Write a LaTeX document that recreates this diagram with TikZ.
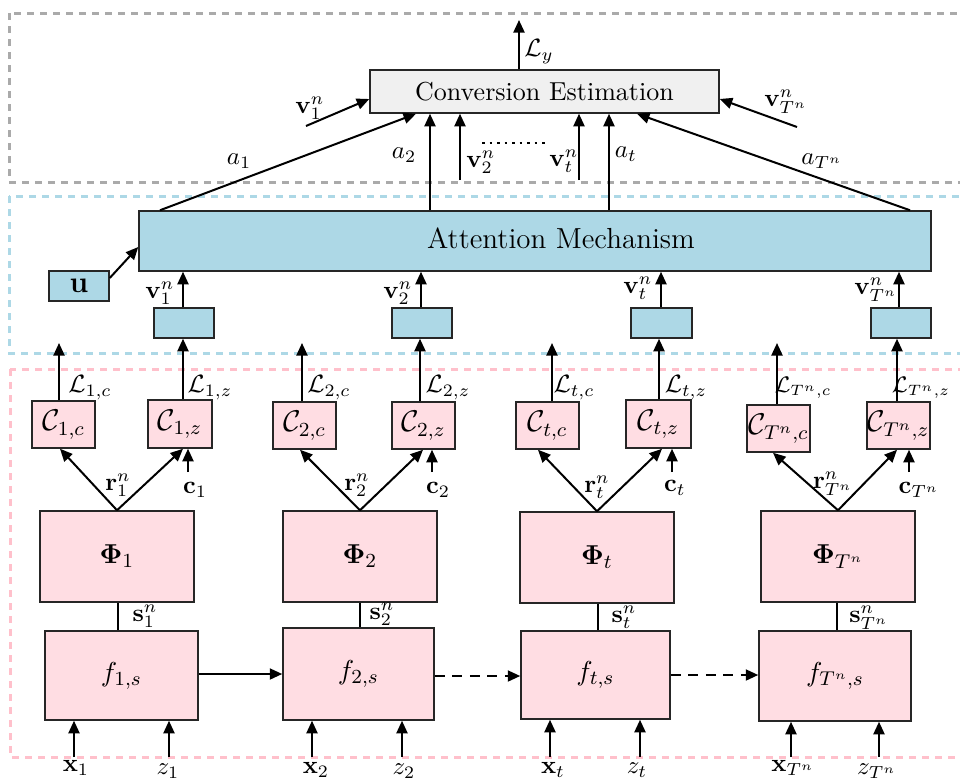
\documentclass[tikz,border=0pt]{standalone}
\usetikzlibrary{arrows.meta}
\definecolor{pinkfill}{RGB}{255,221,227}
\definecolor{lblue}{RGB}{173,216,230}
\definecolor{convfill}{RGB}{240,240,240}
\definecolor{dgray}{RGB}{170,170,170}
\definecolor{dpink}{RGB}{255,192,203}
\newcommand{\rbox}[7]{\node[#1, minimum width={(#4-#2)*0.4pt}, minimum height={(#5-#3)*0.4pt}] (#6) at ({(#2+#4)/2},{(#3+#5)/2}) {#7};}
\begin{document}
\begin{tikzpicture}[x=0.4pt,y=-0.4pt,
  box/.style={draw=black!85, line width=0.6pt, inner sep=0pt},
  pbox/.style={box, fill=pinkfill, font=\fontsize{11}{13}\selectfont},
  cbox/.style={box, fill=pinkfill, font=\fontsize{11.5}{14}\selectfont},
  bbox/.style={box, fill=lblue},
  arr/.style={-{Triangle[length=5pt,width=4.4pt]}, line width=0.8pt},
  plain/.style={line width=0.8pt},
  region/.style={dash pattern=on 2.8pt off 2.4pt, line width=1.2pt},
  lbl/.style={inner sep=0pt},
  slbl/.style={inner sep=0pt, font=\fontsize{9}{11}\selectfont}
]
\useasboundingbox (0,0) rectangle (960,782);
\clip (0,0) rectangle (960,782);

% dashed regions
\draw[region, dgray] (9,13) rectangle (990,182);
\draw[region, lblue] (9,196) rectangle (990,353);
\draw[region, dpink] (10,369) rectangle (990,757);

% conversion estimation
\rbox{box, fill=convfill, font=\fontsize{10.4}{12}\selectfont}{370}{70}{719}{113}{conv}{Conversion Estimation}
\coordinate (ly) at (519,20);
\draw[arr] (conv.north -| ly) -- (ly);
\node[lbl] (lyl) at (539,52) {$\mathcal{L}_y$};

% attention
\rbox{bbox}{139}{211}{931}{271}{att}{}
\node[lbl, font=\fontsize{11.6}{14}\selectfont] (attl) at (561,238) {Attention Mechanism};

% u
\rbox{bbox, font=\fontsize{13}{15}\selectfont}{49}{271}{109}{301}{u}{$\mathbf{u}$}
\draw[arr] (u.east |- 0,278) -- (att.west |- 0,247);

% arrows into conversion
\coordinate (v1s) at (306,126);
\draw[arr] (v1s) -- (conv.west |- 0,99);
\node[lbl] (v1top) at (310,108) {$\mathbf{v}_1^n$};
\coordinate (vTs) at (797,127);
\draw[arr] (vTs) -- (conv.east |- 0,99);
\node[lbl] (vTtop) at (786,102) {$\mathbf{v}_{T^n}^n$};

\draw[arr] (att.north -| 160,0) -- (conv.south -| 416,0);
\node[lbl] (a1l) at (239,161) {$a_1$};
\draw[arr] (att.north -| 430,0) -- (conv.south -| 430,0);
\node[lbl] (a2l) at (404,155) {$a_2$};
\coordinate (v2s) at (460,180);
\draw[arr] (v2s) -- (conv.south -| v2s);
\node[lbl] (v2top) at (481,162) {$\mathbf{v}_2^n$};
\coordinate (d1) at (482,143);
\coordinate (d2) at (545,143);
\draw[dotted, line width=1pt] (d1) -- (d2);
\coordinate (vts) at (579,180);
\draw[arr] (vts) -- (conv.south -| vts);
\node[lbl] (vttop) at (564,161) {$\mathbf{v}_t^n$};
\draw[arr] (att.north -| 609,0) -- (conv.south -| 609,0);
\node[lbl] (atl) at (626,154) {$a_t$};
\draw[arr] (att.north -| 910,0) -- (conv.south -| 637,0);
\node[lbl] (aTl) at (822,161) {$a_{T^n}$};

% v boxes
\rbox{bbox}{154}{308}{214}{338}{vb1}{}
\rbox{bbox}{392}{308}{452}{338}{vb2}{}
\rbox{bbox}{631}{308}{692}{338}{vbt}{}
\rbox{bbox}{871}{308}{931}{338}{vbT}{}
\draw[arr] (vb1.north -| 183,0) -- (att.south -| 183,0);
\draw[arr] (vb2.north -| 421,0) -- (att.south -| 421,0);
\draw[arr] (vbt.north -| 661,0) -- (att.south -| 661,0);
\draw[arr] (vbT.north -| 899,0) -- (att.south -| 899,0);
\node[lbl] (v1l) at (160,293) {$\mathbf{v}_1^n$};
\node[lbl] (v2l) at (398,293) {$\mathbf{v}_2^n$};
\node[lbl] (vtl) at (638,288) {$\mathbf{v}_t^n$};
\node[lbl] (vTl) at (876,290) {$\mathbf{v}_{T^n}^n$};

% C boxes
\rbox{cbox}{32}{401}{95}{448}{c1c}{$\mathcal{C}_{1,c}$}
\rbox{cbox}{148}{400}{212}{448}{c1z}{$\mathcal{C}_{1,z}$}
\rbox{cbox}{273}{402}{336}{449}{c2c}{$\mathcal{C}_{2,c}$}
\rbox{cbox}{392}{402}{455}{449}{c2z}{$\mathcal{C}_{2,z}$}
\rbox{cbox}{516}{402}{579}{449}{ctc}{$\mathcal{C}_{t,c}$}
\rbox{cbox}{626}{400}{691}{448}{ctz}{$\mathcal{C}_{t,z}$}
\rbox{cbox}{747}{405}{810}{452}{cTc}{$\mathcal{C}_{T^n,c}$}
\rbox{cbox}{867}{402}{930}{449}{cTz}{$\mathcal{C}_{T^n,z}$}

% loss arrows
\coordinate (l1c) at (59,343);
\coordinate (l2c) at (302,343);
\coordinate (ltc) at (552,343);
\coordinate (lTc) at (777,343);
\draw[arr] (c1c.north -| l1c) -- (l1c);
\draw[arr] (c2c.north -| l2c) -- (l2c);
\draw[arr] (ctc.north -| ltc) -- (ltc);
\draw[arr] (cTc.north -| lTc) -- (lTc);
\draw[arr] (c1z.north -| 183,0) -- (vb1.south -| 183,0);
\draw[arr] (c2z.north -| 420,0) -- (vb2.south -| 420,0);
\draw[arr] (ctz.north -| 659,0) -- (vbt.south -| 659,0);
\draw[arr] (cTz.north -| 897,0) -- (vbT.south -| 897,0);
\node[lbl] (L1c) at (90,388) {$\mathcal{L}_{1,c}$};
\node[lbl] (L1z) at (210,388) {$\mathcal{L}_{1,z}$};
\node[lbl] (L2c) at (329,388) {$\mathcal{L}_{2,c}$};
\node[lbl] (L2z) at (448,388) {$\mathcal{L}_{2,z}$};
\node[lbl] (Ltc) at (574,388) {$\mathcal{L}_{t,c}$};
\node[lbl] (Ltz) at (686,388) {$\mathcal{L}_{t,z}$};
\node[slbl] (LTc) at (803,388) {$\mathcal{L}_{T^n,c}$};
\node[slbl] (LTz) at (921,388) {$\mathcal{L}_{T^n,z}$};

% Phi boxes
\rbox{pbox}{40}{511}{194}{602}{phi1}{$\mathbf{\Phi}_1$}
\rbox{pbox}{283}{511}{437}{602}{phi2}{$\mathbf{\Phi}_2$}
\rbox{pbox}{520}{512}{674}{603}{phit}{$\mathbf{\Phi}_t$}
\rbox{pbox}{761}{511}{915}{602}{phiT}{$\mathbf{\Phi}_{T^n}$}

\draw[arr] (phi1.north) -- (c1c.south -| 60,0);
\draw[arr] (phi1.north) -- (c1z.south -| 183,0);
\draw[arr] (phi2.north) -- (c2c.south -| 300,0);
\draw[arr] (phi2.north) -- (c2z.south -| 423,0);
\draw[arr] (phit.north) -- (ctc.south -| 538,0);
\draw[arr] (phit.north) -- (ctz.south -| 662,0);
\draw[arr] (phiT.north) -- (cTc.south -| 773,0);
\draw[arr] (phiT.north) -- (cTz.south -| 897,0);
\node[lbl] (r1) at (118,485) {$\mathbf{r}_1^n$};
\node[lbl] (r2) at (357,485) {$\mathbf{r}_2^n$};
\node[lbl] (rt) at (597,487) {$\mathbf{r}_t^n$};
\node[lbl] (rT) at (833,484) {$\mathbf{r}_{T^n}^n$};

% c inputs
\coordinate (c1s) at (188,472);
\coordinate (c2s) at (432,472);
\coordinate (cts) at (672,472);
\coordinate (cTs) at (909,472);
\draw[arr] (c1s) -- (c1z.south -| c1s);
\draw[arr] (c2s) -- (c2z.south -| c2s);
\draw[arr] (cts) -- (ctz.south -| cts);
\draw[arr] (cTs) -- (cTz.south -| cTs);
\node[lbl] (c1l) at (195,490) {$\mathbf{c}_1$};
\node[lbl] (c2l) at (438,490) {$\mathbf{c}_2$};
\node[lbl] (ctl) at (675,488) {$\mathbf{c}_t$};
\node[lbl] (cTl) at (919,490) {$\mathbf{c}_{T^n}$};

% f boxes
\rbox{pbox}{45}{631}{198}{720}{f1}{$f_{1,s}$}
\rbox{pbox}{283}{628}{434}{720}{f2}{$f_{2,s}$}
\rbox{pbox}{521}{631}{670}{719}{ft}{$f_{t,s}$}
\rbox{pbox}{759}{631}{911}{721}{fT}{$f_{T^n,s}$}

\draw[plain] (phi1.south -| 118,0) -- (f1.north -| 118,0);
\draw[plain] (phi2.south -| 360,0) -- (f2.north -| 360,0);
\draw[plain] (phit.south -| 598,0) -- (ft.north -| 598,0);
\draw[plain] (phiT.south -| 837,0) -- (fT.north -| 837,0);
\node[lbl] (s1) at (145,616) {$\mathbf{s}_1^n$};
\node[lbl] (s2) at (382,614) {$\mathbf{s}_2^n$};
\node[lbl] (st) at (624,617) {$\mathbf{s}_t^n$};
\node[lbl] (sT) at (869,618) {$\mathbf{s}_{T^n}^n$};

\draw[arr] (f1.east |- 0,674) -- (f2.west |- 0,674);
\draw[arr, dash pattern=on 4pt off 3pt] (f2.east |- 0,676) -- (ft.west |- 0,676);
\draw[arr, dash pattern=on 4pt off 3pt] (ft.east |- 0,675) -- (fT.west |- 0,675);

% inputs
\foreach \nm/\xx/\bx in {x1/74/f1, z1/169/f1, x2/312/f2, z2/402/f2, xt/550/ft, zt/640/ft, xT/791/fT, zT/879/fT}{
  \coordinate (\nm s) at (\xx,757);
  \draw[arr] (\nm s) -- (\bx.south -| \nm s);
}
\node[lbl] (x1l) at (76,768) {$\mathbf{x}_1$};
\node[lbl] (z1l) at (168,771) {$z_1$};
\node[lbl] (x2l) at (316,770) {$\mathbf{x}_2$};
\node[lbl] (z2l) at (404,771) {$z_2$};
\node[lbl] (xtl) at (553,770) {$\mathbf{x}_t$};
\node[lbl] (ztl) at (637,770) {$z_t$};
\node[lbl] (xTl) at (793,768) {$\mathbf{x}_{T^n}$};
\node[lbl] (zTl) at (877,771) {$z_{T^n}$};
\end{tikzpicture}
\end{document}
